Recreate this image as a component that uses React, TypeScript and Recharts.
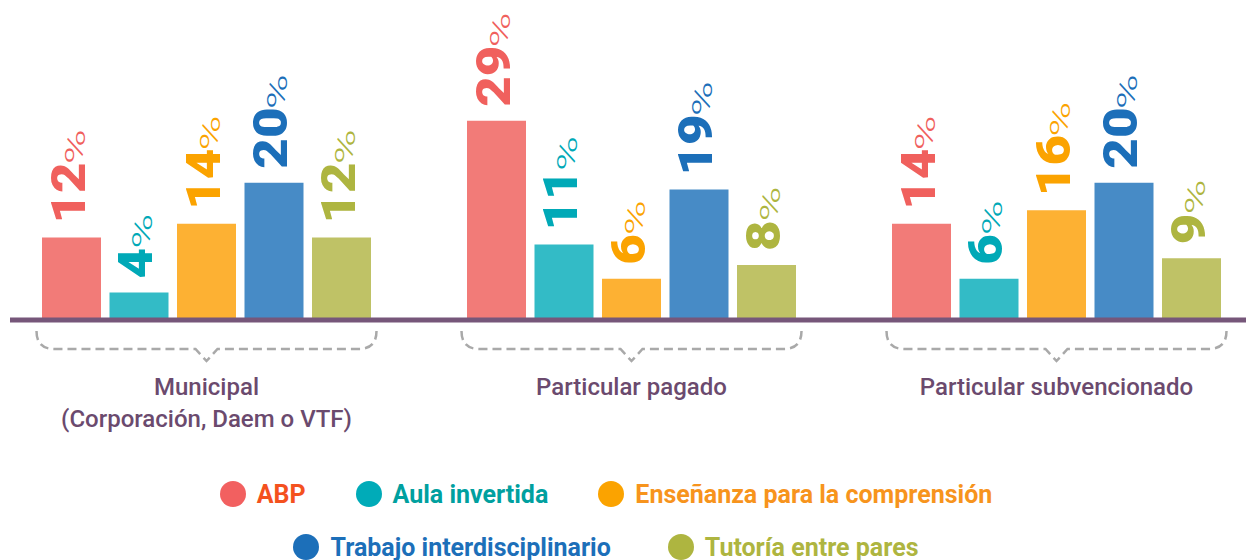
import { BarChart, Bar, XAxis, YAxis, LabelList } from "recharts";

const categories = ["Municipal", "Particular pagado", "Particular subvencionado"];
const subtitles = ["(Corporación, Daem o VTF)", "", ""];

const abp = [12, 29, 14];
const aulaInvertida = [4, 11, 6];
const ensenanza = [14, 6, 16];
const trabajo = [20, 19, 20];
const tutoria = [12, 8, 9];

const series = [
  { key: "abp", name: "ABP", values: abp, bar: "#f27b78", label: "#f0605d", dot: "#f26060", text: "#f4511e" },
  { key: "aula", name: "Aula invertida", values: aulaInvertida, bar: "#33bbc6", label: "#00a9b7", dot: "#00abb8", text: "#00a09f" },
  { key: "ens", name: "Enseñanza para la comprensión", values: ensenanza, bar: "#fdb133", label: "#fba300", dot: "#fba300", text: "#f7941d" },
  { key: "trab", name: "Trabajo interdisciplinario", values: trabajo, bar: "#478bc6", label: "#1c6fb9", dot: "#1c6fb9", text: "#1c6fb9" },
  { key: "tut", name: "Tutoría entre pares", values: tutoria, bar: "#bfc266", label: "#aeb540", dot: "#aeb540", text: "#aeb540" },
];

const legendRows = [[0, 1, 2], [3, 4]];

const data = categories.map((c, i) => {
  const row: Record<string, string | number> = { name: c };
  series.forEach((s) => (row[s.key] = s.values[i]));
  return row;
});

const font = "Roboto, 'Noto Sans', sans-serif";

function CategoryTick(props: any) {
  const { x, y, payload, index } = props;
  const sub = subtitles[index ?? payload?.index ?? 0];
  const d = `M ${x - 170} ${y + 11} Q ${x - 170} ${y + 29} ${x - 152} ${y + 29} L ${x - 11} ${y + 29} L ${x} ${y + 41} L ${x + 11} ${y + 29} L ${x + 152} ${y + 29} Q ${x + 170} ${y + 29} ${x + 170} ${y + 11}`;
  return (
    <g>
      <path d={d} fill="none" stroke="#a9a9a9" strokeWidth={2.5} strokeDasharray="9 5" />
      <text x={x} y={y + 75} textAnchor="middle" fill="#6b4a6e" fontSize={24} fontWeight={500} fontFamily={font}>
        {payload.value}
      </text>
      {sub ? (
        <text x={x} y={y + 107} textAnchor="middle" fill="#6b4a6e" fontSize={24} fontWeight={500} fontFamily={font}>
          {sub}
        </text>
      ) : null}
    </g>
  );
}

// Roboto digits are tabular, so the number's length follows from its digit count
const makeLabel = (color: string) => (props: any) => {
  const { x, y, width, value } = props;
  const ax = Number(x) + Number(width) / 2 + 13;
  const ay = Number(y) - 14;
  const numLen = String(value).length * 0.562 * 48 * 1.1;
  return (
    <g transform={`translate(${ax} ${ay}) rotate(-90)`} fill={color} fontFamily={font}>
      <text transform="scale(1.1 1)" fontSize={48} fontWeight={900}>
        {value}
      </text>
      <text transform={`translate(${numLen} 0) scale(1.7 1)`} fontSize={28} fontWeight={300}>
        %
      </text>
    </g>
  );
};

export default function App() {
  return (
    <div style={{ position: "absolute", left: 0, top: 0, width: 1246, height: 560, overflow: "hidden", background: "#fff" }}>
      <BarChart
        width={1246}
        height={560}
        data={data}
        margin={{ top: 114, right: 0, left: 10, bottom: 130 }}
        barGap={8.5}
      >
        <XAxis
          dataKey="name"
          height={110}
          padding={{ left: -16, right: -23 }}
          axisLine={{ stroke: "#76577a", strokeWidth: 5 }}
          tickLine={false}
          tickSize={0}
          tickMargin={0}
          interval={0}
          tick={<CategoryTick />}
        />
        <YAxis hide domain={[0, 30]} />
        {series.map((s) => (
          <Bar key={s.key} dataKey={s.key} name={s.name} fill={s.bar} barSize={59} isAnimationActive={false}>
            <LabelList dataKey={s.key} content={makeLabel(s.label)} />
          </Bar>
        ))}
      </BarChart>
      <div style={{ position: "absolute", left: 0, top: 479, width: 1212, fontFamily: font }}>
        {legendRows.map((row, r) => (
          <div key={r} style={{ display: "flex", justifyContent: "center", gap: r === 0 ? 50 : 57, height: 53 }}>
            {row.map((i) => {
              const s = series[i];
              return (
                <div key={s.key} style={{ display: "flex", alignItems: "center", height: 30 }}>
                  <div style={{ width: 26, height: 26, borderRadius: "50%", background: s.dot, marginRight: 11 }} />
                  <span style={{ color: s.text, fontSize: 25, fontWeight: 700 }}>{s.name}</span>
                </div>
              );
            })}
          </div>
        ))}
      </div>
    </div>
  );
}
